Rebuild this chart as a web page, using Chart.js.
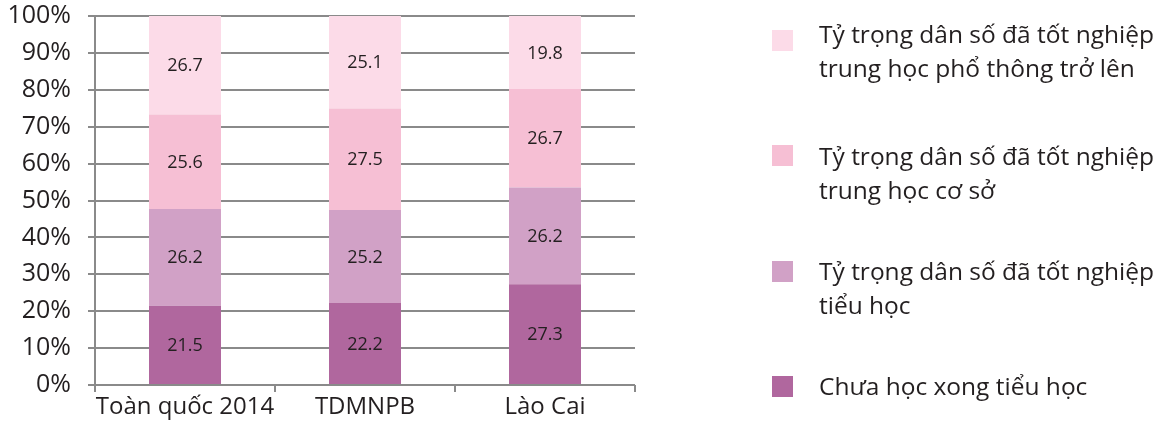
<!DOCTYPE html>
<html lang="vi">
<head>
<meta charset="utf-8">
<title>Tỷ trọng dân số theo trình độ học vấn</title>
<script src="https://cdn.jsdelivr.net/npm/chart.js@4/dist/chart.umd.min.js"></script>
<style>
  html, body { margin: 0; padding: 0; background: #fff; }
  #wrap { position: relative; width: 1165px; height: 428px; font-family: "Open Sans", "Noto Sans", sans-serif; color: #231f20; }
  #wrap canvas { position: absolute; left: 0; top: 0; }
  .lg-box { position: absolute; width: 21px; height: 21px; }
  .lg-text { position: absolute; font-size: 24.5px; line-height: 34px; white-space: nowrap; }
</style>
</head>
<body>
<div id="wrap"><canvas id="c" width="1165" height="428"></canvas></div>
<script>
// Categories (areas) and the share of each education level, in percent
const categories = ["Toàn quốc 2014", "TDMNPB", "Lào Cai"];
const chuaXongTieuHoc = [21.5, 22.2, 27.3];
const totNghiepTieuHoc = [26.2, 25.2, 26.2];
const totNghiepTHCS = [25.6, 27.5, 26.7];
const totNghiepTHPT = [26.7, 25.1, 19.8];

// Legend texts, split into lines, same order as the datasets below
const labelChuaXong = ["Chưa học xong tiểu học"];
const labelTieuHoc = ["Tỷ trọng dân số đã tốt nghiệp", "tiểu học"];
const labelTHCS = ["Tỷ trọng dân số đã tốt nghiệp", "trung học cơ sở"];
const labelTHPT = ["Tỷ trọng dân số đã tốt nghiệp", "trung học phổ thông trở lên"];

// Y axis ticks
const yTicks = [0, 10, 20, 30, 40, 50, 60, 70, 80, 90, 100];

const colors = ["#b0679e", "#d1a1c6", "#f6bfd4", "#fcdbe8"];
const INK = "#231f20";
const GRID = "#8a8a8a";
const FONT = "'Open Sans', 'Noto Sans', sans-serif";

const datasets = [
  { label: labelChuaXong, data: chuaXongTieuHoc, backgroundColor: colors[0] },
  { label: labelTieuHoc, data: totNghiepTieuHoc, backgroundColor: colors[1] },
  { label: labelTHCS, data: totNghiepTHCS, backgroundColor: colors[2] },
  { label: labelTHPT, data: totNghiepTHPT, backgroundColor: colors[3] }
].map(d => Object.assign(d, { borderWidth: 0, categoryPercentage: 0.4, barPercentage: 1.0 }));

// Writes each segment's value in the middle of its bar
const segmentValues = {
  id: "segmentValues",
  afterDatasetsDraw(chart) {
    const ctx = chart.ctx;
    ctx.save();
    ctx.font = "18px " + FONT;
    ctx.fillStyle = INK;
    ctx.textAlign = "center";
    ctx.textBaseline = "middle";
    chart.data.datasets.forEach((ds, i) => {
      chart.getDatasetMeta(i).data.forEach((bar, j) => {
        ctx.fillText(ds.data[j].toFixed(1), bar.x, (bar.y + bar.base) / 2 + 1);
      });
    });
    ctx.restore();
  }
};

// Legend on the right, top entry is the top of the stack
function buildLegend(chart) {
  const wrap = document.getElementById("wrap");
  const boxTops = [376, 261, 145, 30];
  const textTops = [369, 254, 139, 17];
  chart.data.datasets.forEach((ds, i) => {
    const box = document.createElement("div");
    box.className = "lg-box";
    box.style.left = "772px";
    box.style.top = boxTops[i] + "px";
    box.style.background = ds.backgroundColor;
    wrap.appendChild(box);
    const txt = document.createElement("div");
    txt.className = "lg-text";
    txt.style.left = "819px";
    txt.style.top = textTops[i] + "px";
    ds.label.forEach((line, k) => {
      if (k) txt.appendChild(document.createElement("br"));
      txt.appendChild(document.createTextNode(line));
    });
    wrap.appendChild(txt);
  });
}

function draw() {
  const chart = new Chart(document.getElementById("c"), {
    type: "bar",
    data: { labels: categories, datasets },
    options: {
      responsive: false,
      animation: false,
      events: [],
      layout: { padding: { top: 16, right: 530, left: 0, bottom: 0 } },
      plugins: { legend: { display: false }, tooltip: { enabled: false } },
      scales: {
        x: {
          stacked: true,
          offset: true,
          border: { display: false },
          grid: { offset: true, drawOnChartArea: false, drawTicks: true, tickLength: 7, color: GRID, lineWidth: 2 },
          ticks: { color: INK, font: { family: FONT, size: 24 }, padding: 1, maxRotation: 0, autoSkip: false },
          afterFit(scale) { scale.height = 43; scale.paddingLeft = 0; scale.paddingRight = 0; }
        },
        y: {
          stacked: true,
          min: 0,
          max: 100,
          border: { display: true, color: GRID, width: 2 },
          grid: { color: GRID, lineWidth: 2, tickLength: 7, drawTicks: true },
          afterBuildTicks(scale) { scale.ticks = yTicks.map(v => ({ value: v })); },
          ticks: { color: INK, font: { family: FONT, size: 25 }, padding: 17, callback: v => v + "%" },
          afterFit(scale) { scale.width = 95; scale.paddingTop = 0; scale.paddingBottom = 0; }
        }
      }
    },
    plugins: [segmentValues]
  });
  buildLegend(chart);
}

if (document.fonts && document.fonts.load) {
  Promise.all([document.fonts.load("25px 'Open Sans'"), document.fonts.load("24px 'Open Sans'"), document.fonts.load("18px 'Open Sans'")]).then(draw, draw);
} else {
  draw();
}
</script>
</body>
</html>
